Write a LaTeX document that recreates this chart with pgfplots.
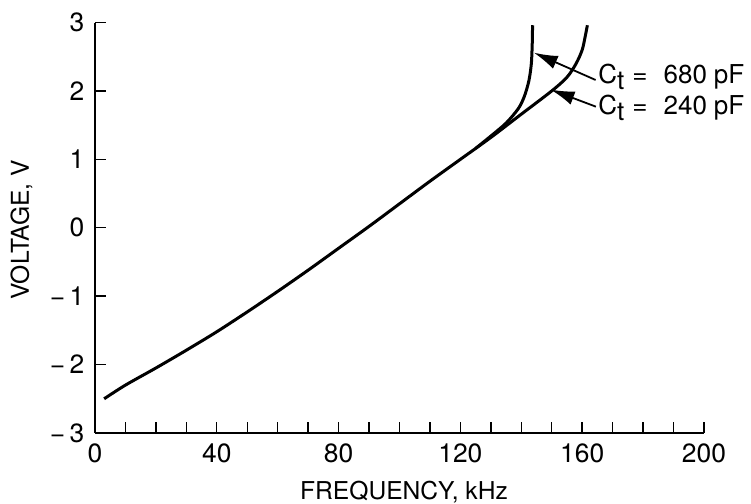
\documentclass[border=0pt]{standalone}
\usepackage{fontspec}
\setmainfont{TeX Gyre Heros}
\usepackage{pgfplots}
\pgfplotsset{compat=1.18}
\usetikzlibrary{arrows.meta}
\begin{document}
\fontsize{12.3}{14}\selectfont
\begin{tikzpicture}
\useasboundingbox (0,0) rectangle (375.5pt,252pt);
\begin{axis}[
  at={(47.5pt,35.5pt)}, anchor=south west,
  scale only axis, width=304.5pt, height=205.25pt,
  xmin=0, xmax=200, ymin=-3, ymax=3,
  axis lines=left, axis line style={line width=1pt, -},
  xtick={0,40,...,200}, minor xtick={10,20,...,200},
  ytick={-3,-2,...,3},
  yticklabels={−\,3,−\,2,−\,1,0,1,2,3},
  tick align=inside, major tick length=5.5pt, minor tick length=5.5pt,
  tick style={line width=0.7pt, black},
  /pgf/number format/assume math mode=true,
  xticklabel style={font=\fontsize{13.2}{15}\selectfont, yshift=-1pt},
  yticklabel style={font=\fontsize{13.2}{15}\selectfont, xshift=-1pt},
  xlabel={FREQUENCY, kHz}, ylabel={VOLTAGE, V},
  xlabel style={at={(rel axis cs:0.5,0)}, anchor=base, yshift=-33.5pt, xshift=2.25pt, font=\fontsize{12.3}{14}\selectfont},
  ylabel style={at={(rel axis cs:0,0.5)}, anchor=center, yshift=36.75pt, xshift=-1pt, font=\fontsize{12.3}{14}\selectfont},
  clip=false,
]
% common section + 240 pF
\addplot[black, line width=1.5pt, smooth] coordinates {
 (3,-2.5) (10,-2.3) (20,-2.05) (30,-1.79) (40,-1.52) (50,-1.23) (60,-0.93)
 (70,-0.62) (80,-0.30) (90,0.02) (100,0.35) (110,0.68) (120,1.0) (130,1.32)
 (140,1.66) (150,2.0) (155,2.2) (158,2.4) (160,2.6) (161,2.8) (161.7,2.96)
};
% 680 pF branch
\addplot[black, line width=1.5pt, smooth] coordinates {
 (125,1.16) (130,1.34) (135,1.53) (139,1.74) (141,1.92) (142.5,2.15)
 (143.3,2.4) (143.6,2.7) (143.7,2.96)
};
\draw[line width=0.9pt, -{Latex[length=12pt,width=7pt]}] (axis cs:164.4,2.16) -- (axis cs:144.1,2.56);
\draw[line width=0.9pt, -{Latex[length=12pt,width=7pt]}] (axis cs:164.5,1.77) -- (axis cs:149.6,2.02);
\node[anchor=base west, inner sep=0pt, font=\fontsize{13}{15}\selectfont] at (axis cs:165.2,2.115) {C\raisebox{-0.45ex}{t}\hspace{4pt}=\hspace{8pt}680\hspace{3.5pt}pF};
\node[anchor=base west, inner sep=0pt, font=\fontsize{13}{15}\selectfont] at (axis cs:165.2,1.653) {C\raisebox{-0.45ex}{t}\hspace{4pt}=\hspace{8pt}240\hspace{3.5pt}pF};
\end{axis}
\end{tikzpicture}
\end{document}
